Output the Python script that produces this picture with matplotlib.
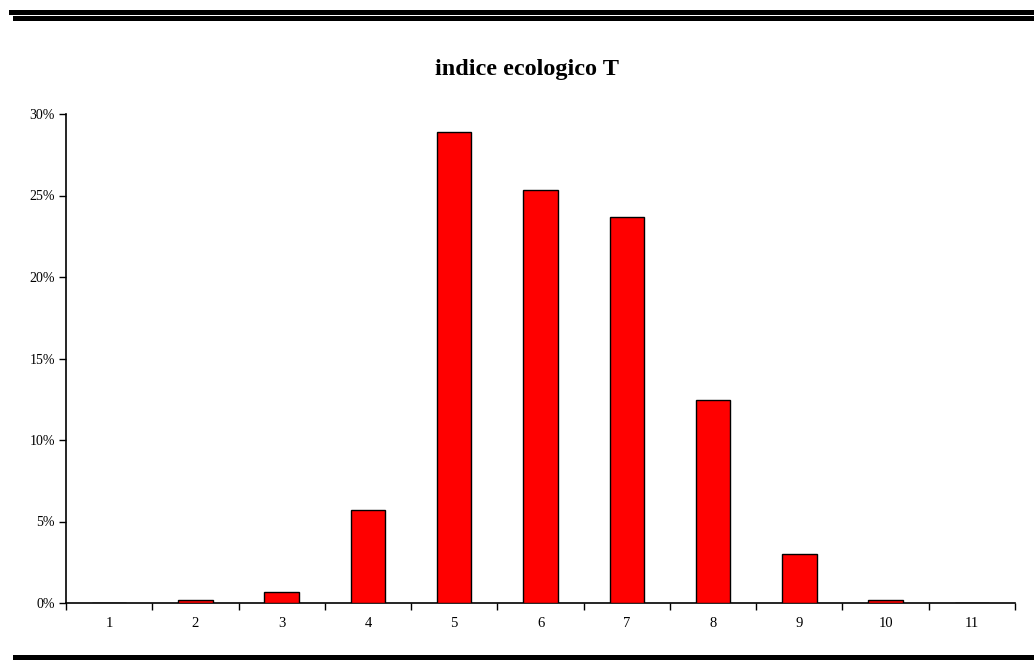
import matplotlib
matplotlib.use("Agg")
import matplotlib.pyplot as plt
import matplotlib.patches as patches
from matplotlib.ticker import FuncFormatter

# frequenze per classe dell'indice T
classi = [str(i) for i in range(1, 12)]
frequenze = [0.0, 0.0016, 0.0067, 0.057, 0.2887, 0.2534, 0.2366, 0.1243, 0.030, 0.0016, 0.0]
titolo = "indice ecologico T"

W, H = 1034, 664
fig = plt.figure(figsize=(W / 100, H / 100), dpi=100)
plt.rcParams['font.family'] = ['Liberation Serif', 'DejaVu Serif']

ax = fig.add_axes([66 / W, 1 - 603 / H, (1015 - 66) / W, (603 - 114) / H])

x = list(range(len(classi)))
ax.bar(x, frequenze, width=0.4, color='#ff0000', edgecolor='black', linewidth=1.0, zorder=3)

ax.set_xlim(-0.5, len(classi) - 0.5)
ax.set_ylim(0, 0.30)
ax.set_yticks([0, 0.05, 0.10, 0.15, 0.20, 0.25, 0.30])
ax.yaxis.set_major_formatter(FuncFormatter(lambda v, p: f"{v * 100:.0f}%"))

# etichette centrate sulle barre, tacche ai bordi delle classi
ax.set_xticks([i - 0.5 for i in range(len(classi) + 1)])
ax.set_xticklabels([])
ax.set_xticks(x, minor=True)
ax.set_xticklabels(classi, minor=True)
ax.tick_params(axis='x', which='minor', length=0, pad=10, labelsize=10.5)
ax.tick_params(axis='x', which='major', length=5, width=1, direction='out')
ax.tick_params(axis='y', length=5, width=1, direction='out', labelsize=10, pad=3)

for s in ['top', 'right']:
    ax.spines[s].set_visible(False)
for s in ['left', 'bottom']:
    ax.spines[s].set_linewidth(1.2)

fig.text(527 / W, 1 - 70 / H, titolo, ha='center', va='center', fontsize=17.5, fontweight='bold')

# filetti di intestazione e piede
def filetto(x0, y0, y1):
    fig.add_artist(patches.Rectangle((x0 / W, 1 - y1 / H), 1 - x0 / W, (y1 - y0) / H,
                                     transform=fig.transFigure, facecolor='black',
                                     edgecolor='none'))

filetto(9, 10, 15)
filetto(13, 16, 21)
filetto(13, 655, 660)

fig.savefig("out.png", dpi=100)
